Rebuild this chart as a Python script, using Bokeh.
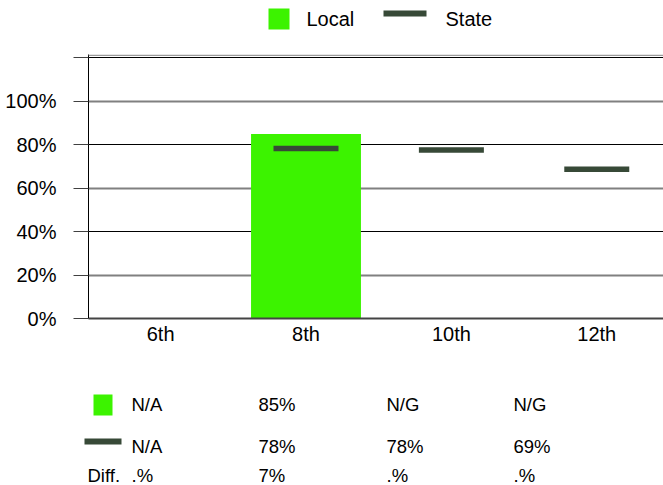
import math
from bokeh.plotting import figure
from bokeh.layouts import column
from bokeh.models import (Range1d, FixedTicker, PrintfTickFormatter, Grid,
                          Label, Span, ColumnDataSource, BoxAnnotation)
from bokeh.embed import file_html
from bokeh.resources import INLINE

# ---- data ----
grades = ["6th", "8th", "10th", "12th"]
local_values = [math.nan, 85.0, math.nan, math.nan]
state_values = [math.nan, 78.3, 77.6, 68.7]
y_ticks = [0, 20, 40, 60, 80, 100, 120]
series_names = ["Local", "State"]
local_row = ["N/A", "85%", "N/G", "N/G"]
state_row = ["N/A", "78%", "78%", "69%"]
diff_label = "Diff."
diff_row = [".%", "7%", ".%", ".%"]

# ---- style ----
FONT = "Liberation Sans"
GREEN = "#3CF300"
DARK = "#374937"
BAR_W = 0.756
DASH_W = 0.447
W = 663


def blank_fig(height):
    # pixel-coordinate canvas: x from left, y from top
    f = figure(width=W, height=height, x_range=Range1d(0, W), y_range=Range1d(height, 0),
               output_backend="svg", toolbar_location=None,
               x_axis_location=None, y_axis_location=None,
               min_border_left=0, min_border_right=0, min_border_top=0, min_border_bottom=0)
    f.outline_line_color = None
    f.grid.visible = False
    f.frame_align = False
    return f


def key_box(f, l, r, t, b, color):
    f.add_layout(BoxAnnotation(left=l, right=r, top=t, bottom=b, fill_color=color,
                               fill_alpha=1, line_color=None, level="overlay"))


def text(f, x, y, s, size):
    f.add_layout(Label(x=x, y=y, text=s, text_font=FONT, text_font_size=size,
                       text_baseline="middle", text_align="left", text_color="black"))


# ---------- top legend ----------
TOP_H = 54
ptop = blank_fig(TOP_H)
key_box(ptop, 268, 289, 8, 29, GREEN)
text(ptop, 306, 18.5, series_names[0], "20px")
key_box(ptop, 383, 426, 10, 16, DARK)
text(ptop, 445, 18.5, series_names[1], "20px")

# ---------- main chart ----------
xpos = list(range(len(grades)))
src = ColumnDataSource(dict(
    x=xpos, local=local_values, state=state_values,
    x0=[x - DASH_W / 2 for x in xpos], x1=[x + DASH_W / 2 for x in xpos]))

p = figure(width=W, height=300, x_range=Range1d(-0.496, 3.459), y_range=Range1d(0, 121.6),
           output_backend="svg", toolbar_location=None,
           min_border_left=88, min_border_right=0, min_border_top=0, min_border_bottom=36)
p.outline_line_color = None
p.grid.visible = False
p.frame_align = False

p.add_layout(Grid(dimension=1, ticker=FixedTicker(ticks=[20, 60, 100]),
                  grid_line_color="#808080", grid_line_width=2))
p.add_layout(Grid(dimension=1, ticker=FixedTicker(ticks=[40, 80, 120]),
                  grid_line_color="black", grid_line_width=1))
p.add_layout(Span(location=121.2, dimension="width", line_color="#9a9a9a", line_width=1.5))

p.vbar(x="x", top="local", bottom=0, width=BAR_W, source=src, fill_color=GREEN, line_color=None)
p.segment(x0="x0", y0="state", x1="x1", y1="state", source=src, line_color=DARK, line_width=5.5)

ya = p.yaxis[0]
ya.ticker = FixedTicker(ticks=y_ticks)
ya.formatter = PrintfTickFormatter(format="%d%%")
ya.major_label_overrides = {120: ""}
ya.major_tick_out = 15
ya.major_tick_in = 0
ya.minor_tick_out = 0
ya.minor_tick_in = 0
ya.major_tick_line_color = "#404040"
ya.axis_line_color = "black"
ya.major_label_text_font = FONT
ya.major_label_text_font_size = "20px"
ya.major_label_text_color = "black"
ya.major_label_standoff = 17

xa = p.xaxis[0]
xa.ticker = FixedTicker(ticks=xpos)
xa.major_label_overrides = {i: g for i, g in enumerate(grades)}
xa.major_tick_out = 0
xa.major_tick_in = 0
xa.minor_tick_out = 0
xa.minor_tick_in = 0
xa.axis_line_color = "#444444"
xa.axis_line_width = 2
xa.major_label_text_font = FONT
xa.major_label_text_font_size = "20px"
xa.major_label_text_color = "black"
xa.major_label_standoff = 4

# ---------- bottom table ----------
TAB_TOP = 54 + 300
TAB_H = 485 - TAB_TOP
ptab = blank_fig(TAB_H)


def ty(page_y):
    return page_y - TAB_TOP


key_box(ptab, 93, 112, ty(394), ty(415), GREEN)
key_box(ptab, 84, 121, ty(438), ty(444), DARK)

col_x = [131, 258, 386, 513]
row_y = [ty(404), ty(445.5), ty(475)]
for i in range(len(grades)):
    text(ptab, col_x[i], row_y[0], local_row[i], "18.5px")
    text(ptab, col_x[i], row_y[1], state_row[i], "18.5px")
    text(ptab, col_x[i], row_y[2], diff_row[i], "18.5px")
text(ptab, 87, row_y[2], diff_label, "18.5px")

layout = column(ptop, p, ptab, spacing=0)
open("out.html", "w").write(file_html(layout, INLINE))
